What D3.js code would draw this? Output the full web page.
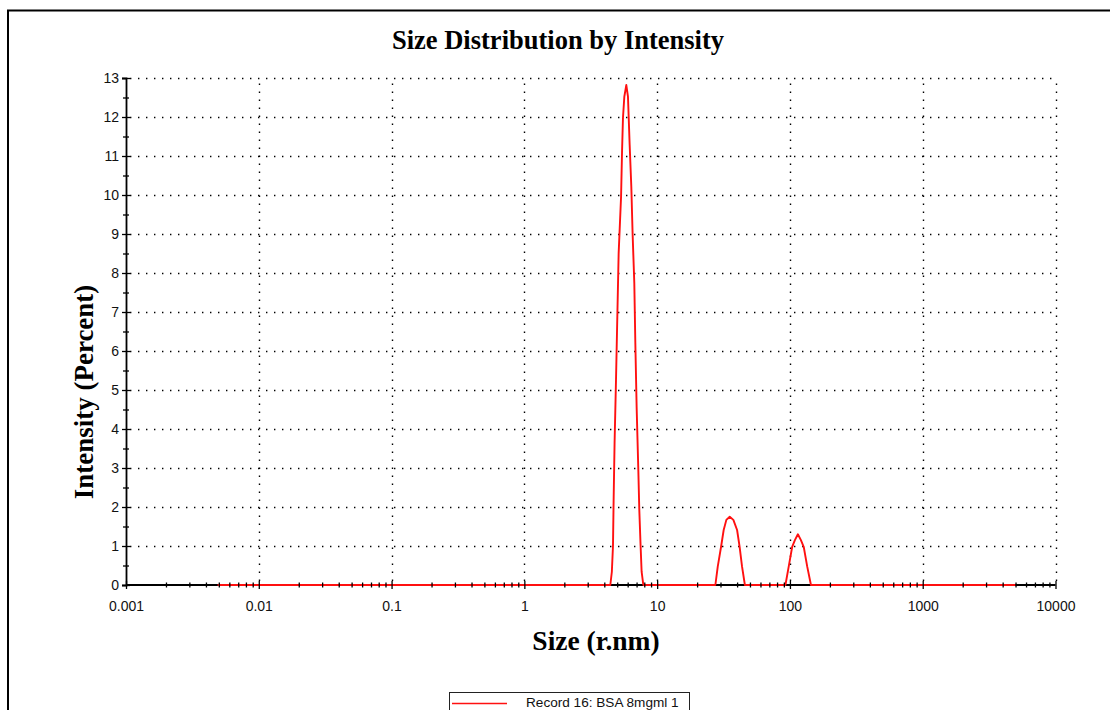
<!DOCTYPE html>
<html>
<head>
<meta charset="utf-8">
<script src="https://cdn.jsdelivr.net/npm/d3@7"></script>
<style>
  body { margin: 0; background: #fff; }
  svg { display: block; }
</style>
</head>
<body>
<svg id="chart" width="1110" height="710"></svg>
<script>
// Size distribution by intensity: hydrodynamic radius (nm) vs. intensity (%)
const sizeNm = [
  0.0049, 4.44,
  4.56, 4.65, 4.70, 4.78, 4.90, 5.13, 5.35, 5.44, 5.53, 5.66, 5.86,
  6.03, 6.21, 6.39, 6.54, 6.73, 6.85, 7.01, 7.22, 7.34, 7.51, 7.64, 7.87,
  27.45, 28.6, 30.3, 31.7, 33.2, 35.2, 37.5, 40.0, 41.8, 43.6, 45.8,
  92.5, 97.9, 104, 109, 114.8, 121, 127, 135, 144,
  5000
];
const intensityPct = [
  0, 0,
  0.34, 1.0, 2.13, 3.64, 5.26, 8.51, 9.96, 11.1, 11.98, 12.52, 12.82,
  12.52, 11.28, 10.21, 8.97, 7.74, 6.21, 4.54, 2.91, 1.92, 0.98, 0.34, 0,
  0, 0.47, 0.98, 1.41, 1.67, 1.75, 1.67, 1.41, 0.98, 0.47, 0,
  0, 0.47, 0.98, 1.15, 1.30, 1.15, 0.98, 0.47, 0,
  0
];
const xTickValues = [0.001, 0.01, 0.1, 1, 10, 100, 1000, 10000];
const xTickLabels = ["0.001", "0.01", "0.1", "1", "10", "100", "1000", "10000"];
const yTickValues = [0, 1, 2, 3, 4, 5, 6, 7, 8, 9, 10, 11, 12, 13];
const legendLabels = ["Record 16: BSA 8mgml 1"];
const chartTitle = "Size Distribution by Intensity";
const xTitle = "Size (r.nm)";
const yTitle = "Intensity (Percent)";

const svg = d3.select("#chart");
const serif = "'Liberation Serif', 'Times New Roman', serif";
const sans = "'Liberation Sans', Arial, sans-serif";

const x = d3.scaleLog().domain([0.001, 10000]).range([126, 1055.5]);
const y = d3.scaleLinear().domain([0, 13]).range([585, 78]);

// outer frame (left and top edges)
svg.append("path")
  .attr("d", "M8,710 V10.5 H1110")
  .attr("fill", "none").attr("stroke", "#000").attr("stroke-width", 2);

// title
svg.append("text")
  .attr("x", 558).attr("y", 49)
  .attr("text-anchor", "middle")
  .style("font-family", serif).style("font-weight", "bold").style("font-size", "26.5px")
  .text(chartTitle);

// dotted grid
const grid = svg.append("g");
grid.selectAll(".hgrid").data(yTickValues.filter(v => v > 0)).join("line")
  .attr("x1", x(0.001) + 4).attr("x2", x(10000))
  .attr("y1", d => Math.round(y(d)) + 0.5).attr("y2", d => Math.round(y(d)) + 0.5)
  .attr("stroke", "#000").attr("stroke-width", 1.4).attr("stroke-dasharray", "1.4,6.6");
grid.selectAll(".vgrid").data(xTickValues.filter(v => v > 0.001)).join("line")
  .attr("x1", d => Math.round(x(d)) + 0.5).attr("x2", d => Math.round(x(d)) + 0.5)
  .attr("y1", y(0) - 4).attr("y2", y(13))
  .attr("stroke", "#000").attr("stroke-width", 1.4).attr("stroke-dasharray", "1.4,6.6");

// x axis baseline (drawn under the data)
svg.append("line")
  .attr("x1", x(0.001)).attr("x2", x(10000))
  .attr("y1", y(0)).attr("y2", y(0))
  .attr("stroke", "#000").attr("stroke-width", 1.8);

// distribution curve
const line = d3.line()
  .x((d, i) => x(sizeNm[i]))
  .y(d => y(d));
svg.append("path")
  .datum(intensityPct)
  .attr("d", line)
  .attr("fill", "none")
  .attr("stroke", "#ff1010")
  .attr("stroke-width", 1.9)
  .attr("stroke-linejoin", "round");

// x axis
const minorX = [];
xTickValues.slice(0, -1).forEach(d => { for (let k = 2; k <= 9; k++) minorX.push(d * k); });

const gxMinor = svg.append("g").attr("transform", `translate(0,${y(0)})`)
  .call(d3.axisBottom(x).tickValues(minorX).tickFormat("").tickSize(2.5));
gxMinor.select(".domain").remove();
gxMinor.selectAll(".tick line").attr("y1", -2.5).attr("stroke-width", 1.3);

const gx = svg.append("g").attr("transform", `translate(0,${y(0)})`)
  .call(d3.axisBottom(x).tickValues(xTickValues)
    .tickFormat((d, i) => xTickLabels[i]).tickSize(4).tickPadding(12));
gx.select(".domain").remove();
gx.selectAll(".tick line").attr("y1", -4).attr("stroke-width", 1.3);
gx.selectAll("text").style("font-family", sans).style("font-size", "14px").attr("fill", "#111");

// y axis
const minorY = yTickValues.slice(0, -1).map(v => v + 0.5);
const gyMinor = svg.append("g").attr("transform", `translate(${x(0.001)},0)`)
  .call(d3.axisLeft(y).tickValues(minorY).tickFormat("").tickSize(3));
gyMinor.select(".domain").remove();
gyMinor.selectAll(".tick line").attr("x1", 3).attr("stroke-width", 1.3);

const gy = svg.append("g").attr("transform", `translate(${x(0.001)},0)`)
  .call(d3.axisLeft(y).tickValues(yTickValues).tickSize(4).tickPadding(3));
gy.select(".domain").attr("stroke-width", 1.8);
gy.selectAll(".tick line").attr("x1", 4).attr("stroke-width", 1.3);
gy.selectAll("text").style("font-family", sans).style("font-size", "14px").attr("fill", "#111");

// axis titles
svg.append("text")
  .attr("x", 596).attr("y", 650)
  .attr("text-anchor", "middle")
  .style("font-family", serif).style("font-weight", "bold").style("font-size", "27.5px")
  .text(xTitle);
svg.append("text")
  .attr("transform", "translate(93,392) rotate(-90)")
  .attr("text-anchor", "middle")
  .style("font-family", serif).style("font-weight", "bold").style("font-size", "27px")
  .text(yTitle);

// legend
const legend = svg.append("g");
legend.append("rect")
  .attr("x", 449.5).attr("y", 692.5).attr("width", 240).attr("height", 40)
  .attr("fill", "#fff").attr("stroke", "#222").attr("stroke-width", 1);
legend.selectAll(".entry").data(legendLabels).join("g").each(function (d, i) {
  const g = d3.select(this);
  g.append("line")
    .attr("x1", 452).attr("x2", 507).attr("y1", 703.5 + i * 16).attr("y2", 703.5 + i * 16)
    .attr("stroke", "#ff1010").attr("stroke-width", 1.4);
  g.append("text")
    .attr("x", 526).attr("y", 706.5 + i * 16)
    .style("font-family", sans).style("font-size", "13.6px").attr("fill", "#111")
    .text(d);
});
</script>
</body>
</html>
